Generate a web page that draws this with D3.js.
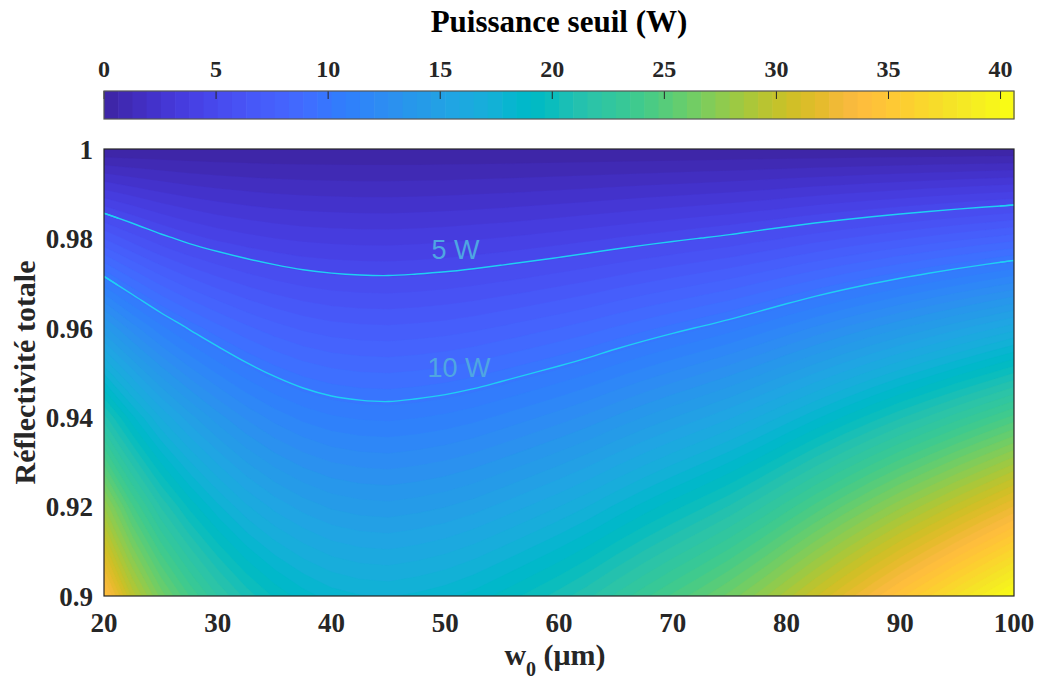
<!DOCTYPE html>
<html>
<head>
<meta charset="utf-8">
<script src="https://cdn.jsdelivr.net/npm/d3@7"></script>
<style>
  html, body { margin: 0; padding: 0; background: #ffffff; }
  svg { display: block; }
</style>
</head>
<body>
<svg id="chart" width="1038" height="681"></svg>
<script>
// ---------------- data ----------------
const w0Values = [20, 22.5, 25, 27.5, 30, 32.5, 35, 37.5, 40, 42.5, 45, 47.5, 50, 52.5, 55, 57.5,
                  60, 62.5, 65, 67.5, 70, 72.5, 75, 77.5, 80, 82.5, 85, 87.5, 90, 92.5, 95, 97.5, 100];
const reflectivity = [1.00, 0.98, 0.96, 0.94, 0.92, 0.90];
// threshold power (W), one row per reflectivity, one column per w0
const power100 = new Array(33).fill(0);
const power098 = [6.96, 6.02, 5.26, 4.70, 4.30, 4.02, 3.81, 3.66, 3.58, 3.53, 3.52, 3.57, 3.64, 3.74, 3.85, 3.98,
                  4.13, 4.29, 4.47, 4.65, 4.83, 5.02, 5.22, 5.48, 5.75, 6.04, 6.32, 6.60, 6.88, 7.16, 7.43, 7.70, 7.98];
const power096 = [14.12, 12.36, 10.96, 9.90, 9.06, 8.38, 7.86, 7.48, 7.24, 7.12, 7.08, 7.16, 7.28, 7.46, 7.70, 7.96,
                  8.24, 8.56, 8.94, 9.32, 9.70, 10.08, 10.50, 11.00, 11.56, 12.14, 12.72, 13.30, 13.88, 14.44, 15.02, 15.60, 16.20];
const power094 = [21.18, 18.54, 16.44, 14.85, 13.59, 12.57, 11.79, 11.22, 10.86, 10.68, 10.62, 10.74, 10.92, 11.19, 11.55, 11.94,
                  12.36, 12.84, 13.41, 13.98, 14.55, 15.12, 15.75, 16.50, 17.34, 18.21, 19.08, 19.95, 20.82, 21.66, 22.53, 23.40, 24.30];
const power092 = [27.90, 24.20, 21.50, 19.50, 17.90, 16.60, 15.65, 14.96, 14.48, 14.24, 14.16, 14.32, 14.56, 14.92, 15.40, 15.92,
                  16.48, 17.12, 17.88, 18.64, 19.40, 20.16, 21.00, 22.00, 23.12, 24.28, 25.44, 26.60, 27.76, 28.88, 30.04, 31.20, 32.40];
const power090 = [34.30, 29.60, 26.40, 24.10, 22.20, 20.70, 19.55, 18.70, 18.10, 17.80, 17.70, 17.90, 18.20, 18.65, 19.25, 19.90,
                  20.60, 21.40, 22.35, 23.30, 24.25, 25.20, 26.25, 27.50, 28.90, 30.35, 31.80, 33.25, 34.70, 36.10, 37.55, 39.00, 40.50];
const powerGrid = [power100, power098, power096, power094, power092, power090];

const xTicks = [20, 30, 40, 50, 60, 70, 80, 90, 100];
const yTicks = [0.9, 0.92, 0.94, 0.96, 0.98, 1];
const colorbarTicks = [0, 5, 10, 15, 20, 25, 30, 35, 40];
const colorLimits = [0, 40.6];
const contourLevels = [5, 10];
const contourLabels = [
  { text: "5 W",  w0: 50.9, R: 0.9754 },
  { text: "10 W", w0: 51.2, R: 0.9491 }
];
// MATLAB parula, 64 entries
const parula = [
[0.2422,0.1504,0.6603],[0.2504,0.1650,0.7076],[0.2578,0.1818,0.7511],[0.2647,0.1978,0.7952],
[0.2706,0.2147,0.8364],[0.2751,0.2342,0.8710],[0.2783,0.2559,0.8991],[0.2803,0.2782,0.9221],
[0.2813,0.3006,0.9414],[0.2810,0.3228,0.9579],[0.2795,0.3447,0.9717],[0.2760,0.3667,0.9829],
[0.2699,0.3892,0.9906],[0.2602,0.4123,0.9952],[0.2440,0.4358,0.9988],[0.2206,0.4603,0.9973],
[0.1963,0.4847,0.9892],[0.1834,0.5074,0.9798],[0.1786,0.5289,0.9682],[0.1764,0.5499,0.9520],
[0.1687,0.5703,0.9359],[0.1540,0.5902,0.9218],[0.1460,0.6091,0.9079],[0.1380,0.6276,0.8973],
[0.1248,0.6459,0.8883],[0.1113,0.6635,0.8763],[0.0952,0.6798,0.8598],[0.0689,0.6948,0.8394],
[0.0297,0.7082,0.8163],[0.0036,0.7203,0.7917],[0.0067,0.7312,0.7660],[0.0433,0.7411,0.7394],
[0.0964,0.7500,0.7120],[0.1408,0.7584,0.6842],[0.1717,0.7670,0.6554],[0.1938,0.7758,0.6251],
[0.2161,0.7843,0.5923],[0.2470,0.7918,0.5567],[0.2906,0.7973,0.5188],[0.3406,0.8008,0.4789],
[0.3909,0.8029,0.4354],[0.4456,0.8024,0.3909],[0.5044,0.7993,0.3480],[0.5616,0.7942,0.3045],
[0.6174,0.7876,0.2612],[0.6720,0.7793,0.2227],[0.7242,0.7698,0.1910],[0.7738,0.7598,0.1646],
[0.8203,0.7498,0.1535],[0.8634,0.7406,0.1596],[0.9035,0.7330,0.1774],[0.9393,0.7288,0.2100],
[0.9728,0.7298,0.2394],[0.9956,0.7434,0.2371],[0.9970,0.7659,0.2199],[0.9952,0.7893,0.2028],
[0.9892,0.8136,0.1885],[0.9786,0.8386,0.1766],[0.9676,0.8639,0.1643],[0.9610,0.8890,0.1537],
[0.9597,0.9135,0.1423],[0.9628,0.9373,0.1265],[0.9691,0.9606,0.1064],[0.9769,0.9839,0.0805]
];

// ---------------- layout ----------------
const plot = { left: 104, right: 1014, top: 149, bottom: 596 };
const cbar = { top: 91, bottom: 119 };
const serif = "'Liberation Serif','Times New Roman',serif";
const sans = "'Liberation Sans',Arial,sans-serif";
const axisColor = "#262626";

const svg = d3.select("#chart");
svg.append("rect").attr("width", 1038).attr("height", 681).attr("fill", "#fff");

const x = d3.scaleLinear().domain([20, 100]).range([plot.left, plot.right]);
const y = d3.scaleLinear().domain([0.9, 1]).range([plot.bottom, plot.top]);
const cx = d3.scaleLinear().domain(colorLimits).range([plot.left, plot.right]);

const colors = parula.map(c => d3.rgb(c[0] * 255, c[1] * 255, c[2] * 255).formatHex());
const nBands = colors.length;
const bandStep = (colorLimits[1] - colorLimits[0]) / nBands;
const bandEdges = d3.range(nBands).map(i => colorLimits[0] + i * bandStep);
const bandColor = v => colors[Math.max(0, Math.min(nBands - 1, Math.round((v - colorLimits[0]) / bandStep)))];

// grid -> data coordinates
const nx = w0Values.length, ny = reflectivity.length;
const values = powerGrid.flat();
const colToW = d3.scaleLinear().domain([0.5, nx - 0.5]).range([w0Values[0], w0Values[nx - 1]]);
const rowToR = d3.scaleLinear().domain([0.5, ny - 0.5]).range([reflectivity[0], reflectivity[ny - 1]]);
const proj = d3.geoTransform({
  point: function (px, py) { this.stream.point(x(colToW(px)), y(rowToR(py))); }
});
const path = d3.geoPath(proj);

// clips
const defs = svg.append("defs");
defs.append("clipPath").attr("id", "plotClip")
  .append("rect").attr("x", plot.left).attr("y", plot.top)
  .attr("width", plot.right - plot.left).attr("height", plot.bottom - plot.top);
const edgeDefs = defs.append("clipPath").attr("id", "edgeClip");
edgeDefs.append("rect").attr("x", plot.left).attr("y", plot.top)
  .attr("width", x(w0Values[0] + 1.25) - plot.left).attr("height", plot.bottom - plot.top);
edgeDefs.append("rect").attr("x", x(w0Values[nx - 1] - 1.25)).attr("y", plot.top)
  .attr("width", plot.right - x(w0Values[nx - 1] - 1.25)).attr("height", plot.bottom - plot.top);

const gMap = svg.append("g").attr("clip-path", "url(#plotClip)");

const bands = d3.contours().size([nx, ny]).thresholds(bandEdges)(values);
gMap.selectAll("path.band").data(bands).join("path")
  .attr("class", "band")
  .attr("d", path)
  .attr("fill", d => bandColor(d.value))
  .attr("stroke", d => bandColor(d.value))
  .attr("stroke-width", 0.3);

// iso-power lines, drawn as smooth curves through the contour vertices
const lines = d3.contours().size([nx, ny]).thresholds(contourLevels)(values);
const onEdge = p => p[0] <= 0 || p[0] >= nx || p[1] <= 0 || p[1] >= ny;
const smoothLine = d3.line().curve(d3.curveCatmullRom.alpha(0.5));
const runs = [];
lines.forEach(c => {
  c.coordinates.forEach(poly => poly.forEach(ring => {
    const pts = ring.slice(0, -1);
    const start = pts.findIndex(onEdge);
    if (start < 0) return;
    const rot = pts.slice(start).concat(pts.slice(0, start));
    let cur = [];
    rot.concat([rot[0]]).forEach(p => {
      if (onEdge(p)) {
        if (cur.length > 1) runs.push(cur);
        cur = [];
      } else {
        cur.push([x(colToW(p[0])), y(rowToR(p[1]))]);
      }
    });
    if (cur.length > 1) runs.push(cur);
  }));
});
gMap.selectAll("path.iso").data(runs).join("path")
  .attr("class", "iso")
  .attr("d", smoothLine)
  .attr("fill", "none")
  .attr("stroke", "#1fd0f3")
  .attr("stroke-width", 1.4);
// short end pieces reaching the plot frame
gMap.selectAll("path.isoEdge").data(lines).join("path")
  .attr("class", "isoEdge")
  .attr("d", path)
  .attr("fill", "none")
  .attr("stroke", "#1fd0f3")
  .attr("stroke-width", 1.4)
  .attr("clip-path", "url(#edgeClip)");

gMap.selectAll("text.clabel").data(contourLabels).join("text")
  .attr("class", "clabel")
  .attr("x", d => x(d.w0))
  .attr("y", d => y(d.R))
  .attr("text-anchor", "middle")
  .attr("font-family", sans)
  .attr("font-size", 27)
  .attr("fill", "#4fa6e2")
  .text(d => d.text);

// frame
svg.append("rect")
  .attr("x", plot.left).attr("y", plot.top)
  .attr("width", plot.right - plot.left).attr("height", plot.bottom - plot.top)
  .attr("fill", "none").attr("stroke", axisColor).attr("stroke-width", 1.2);

// x ticks
svg.append("g").selectAll("text").data(xTicks).join("text")
  .attr("x", d => x(d)).attr("y", 632)
  .attr("text-anchor", "middle")
  .attr("font-family", serif).attr("font-weight", "bold").attr("font-size", 27)
  .attr("fill", axisColor)
  .text(d => d);

// y ticks
svg.append("g").selectAll("text").data(yTicks).join("text")
  .attr("x", 93).attr("y", d => y(d)).attr("dy", "0.36em")
  .attr("text-anchor", "end")
  .attr("font-family", serif).attr("font-weight", "bold").attr("font-size", 27)
  .attr("fill", axisColor)
  .text(d => d3.format("")(d));

// axis titles
const xt = svg.append("text")
  .attr("x", (plot.left + plot.right) / 2 - 4).attr("y", 665)
  .attr("text-anchor", "middle")
  .attr("font-family", serif).attr("font-weight", "bold").attr("font-size", 30)
  .attr("fill", axisColor);
xt.append("tspan").text("w");
xt.append("tspan").attr("font-size", 20).attr("dy", 11).text("0");
xt.append("tspan").attr("dy", -11).text(" (μm)");

svg.append("text")
  .attr("transform", `translate(35, ${(plot.top + plot.bottom) / 2}) rotate(-90)`)
  .attr("text-anchor", "middle")
  .attr("font-family", serif).attr("font-weight", "bold").attr("font-size", 30)
  .attr("fill", axisColor)
  .text("Réflectivité totale");

// colorbar
const gCb = svg.append("g");
gCb.selectAll("rect.cb").data(bandEdges).join("rect")
  .attr("class", "cb")
  .attr("x", d => cx(d))
  .attr("y", cbar.top)
  .attr("width", cx(bandStep) - cx(0) + 0.6)
  .attr("height", cbar.bottom - cbar.top)
  .attr("fill", (d, i) => colors[i]);
gCb.selectAll("line.cbt").data(colorbarTicks).join("line")
  .attr("class", "cbt")
  .attr("x1", d => cx(d)).attr("x2", d => cx(d))
  .attr("y1", cbar.top).attr("y2", cbar.top + 8)
  .attr("stroke", axisColor).attr("stroke-width", 1);
gCb.append("rect")
  .attr("x", plot.left).attr("y", cbar.top)
  .attr("width", plot.right - plot.left).attr("height", cbar.bottom - cbar.top)
  .attr("fill", "none").attr("stroke", "#555").attr("stroke-width", 1.2);
gCb.selectAll("text").data(colorbarTicks).join("text")
  .attr("x", d => cx(d)).attr("y", 77)
  .attr("text-anchor", "middle")
  .attr("font-family", serif).attr("font-weight", "bold").attr("font-size", 24)
  .attr("fill", axisColor)
  .text(d => d);

svg.append("text")
  .attr("x", (plot.left + plot.right) / 2).attr("y", 32)
  .attr("text-anchor", "middle")
  .attr("font-family", serif).attr("font-weight", "bold").attr("font-size", 31)
  .attr("fill", "#000")
  .text("Puissance seuil (W)");
</script>
</body>
</html>
